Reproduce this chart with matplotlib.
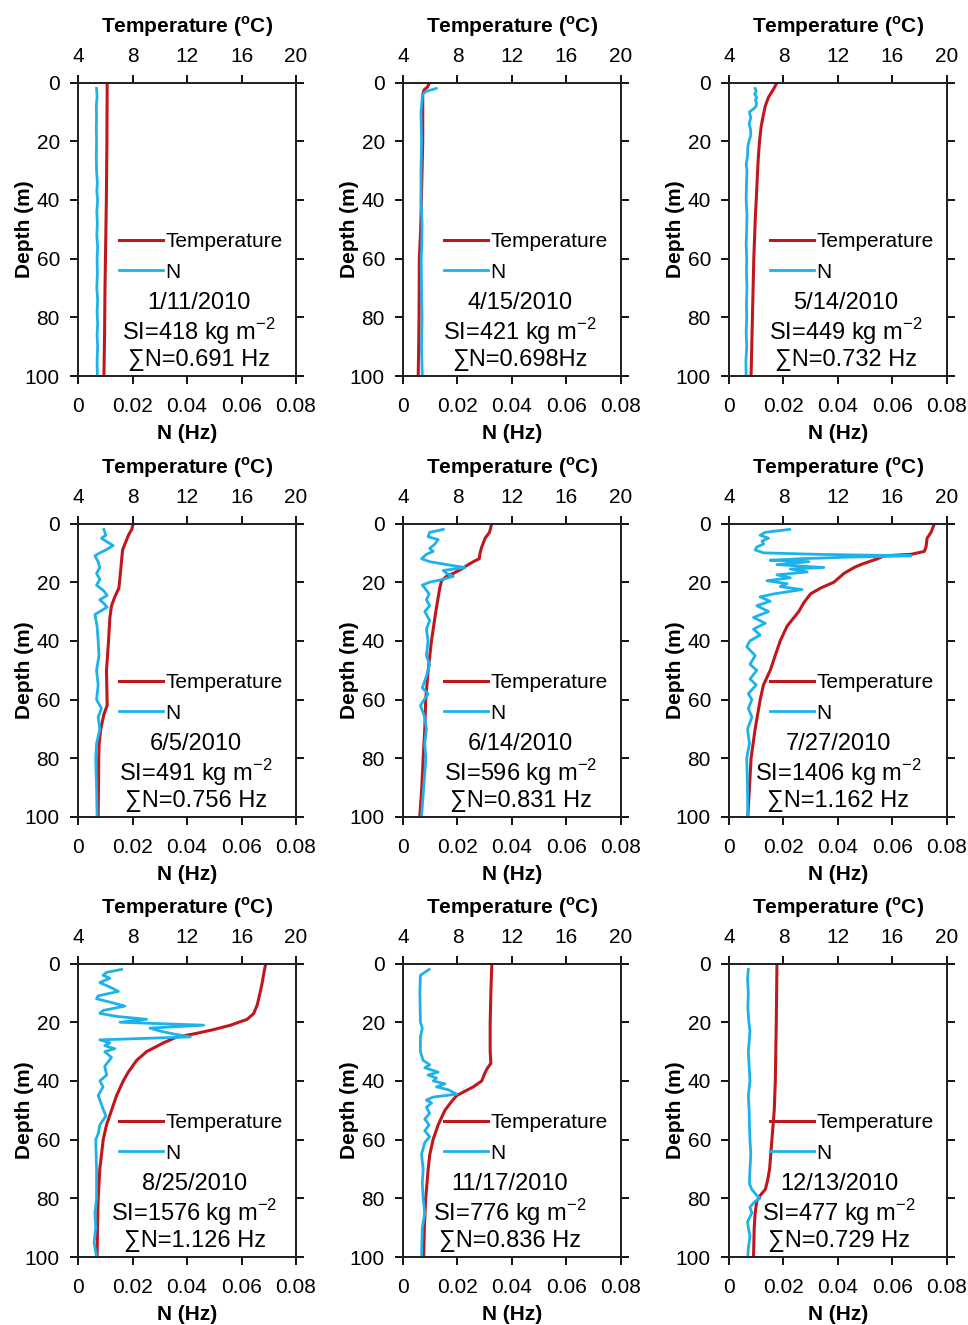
import matplotlib
matplotlib.use('Agg')
import matplotlib.pyplot as plt
from matplotlib.lines import Line2D

plt.rcParams['font.family'] = ['Liberation Sans', 'DejaVu Sans']
plt.rcParams['mathtext.fontset'] = 'custom'
plt.rcParams['mathtext.rm'] = 'Liberation Sans'
plt.rcParams['mathtext.bf'] = 'Liberation Sans:bold'

# --- data ---
dates = ['1/11/2010', '4/15/2010', '5/14/2010', '6/5/2010', '6/14/2010',
         '7/27/2010', '8/25/2010', '11/17/2010', '12/13/2010']
si_values = [418, 421, 449, 491, 596, 1406, 1576, 776, 477]
sum_n_labels = ['0.691 Hz', '0.698Hz', '0.732 Hz', '0.756 Hz', '0.831 Hz',
                '1.162 Hz', '1.126 Hz', '0.836 Hz', '0.729 Hz']

t_depth_0111 = [1, 20, 40, 55, 70, 85, 100]
t_0111 = [6.14, 6.12, 6.08, 6.03, 5.98, 5.95, 5.9]
n_depth_0111 = [2, 5, 8, 12, 16, 20, 25, 30, 34, 37, 40, 44, 48, 52, 56, 60,
                65, 70, 74, 78, 82, 86, 90, 95, 100]
n_0111 = [0.0068, 0.0070, 0.0067, 0.0068, 0.0067, 0.0068, 0.0067, 0.0068,
          0.0071, 0.0069, 0.0072, 0.0069, 0.0071, 0.0069, 0.0072, 0.0070,
          0.0071, 0.0069, 0.0072, 0.0070, 0.0072, 0.0070, 0.0072, 0.0070, 0.0071]

t_depth_0415 = [0.5, 1.5, 2.5, 4, 20, 40, 50, 60, 80, 100]
t_0415 = [5.9, 5.8, 5.55, 5.45, 5.45, 5.35, 5.3, 5.2, 5.18, 5.12]
n_depth_0415 = [2, 3, 4, 10, 20, 30, 40, 48, 55, 60, 70, 80, 90, 100]
n_0415 = [0.0122, 0.0085, 0.0072, 0.0066, 0.0068, 0.0066, 0.0066, 0.0070,
          0.0069, 0.0067, 0.0068, 0.0070, 0.0068, 0.0071]

t_depth_0514 = [0, 2, 5, 8, 12, 15, 20, 25, 30, 40, 45, 50, 60, 70, 80, 90, 100]
t_0514 = [7.52, 7.3, 6.9, 6.66, 6.48, 6.36, 6.24, 6.16, 6.1, 6.0, 5.94, 5.9,
          5.82, 5.77, 5.72, 5.67, 5.62]
n_depth_0514 = [2, 3, 4, 5, 6, 7, 8, 9, 10, 12, 14, 16, 18, 20, 22, 25, 28, 30,
                35, 40, 45, 50, 55, 60, 65, 70, 75, 80, 85, 90, 95, 100]
n_0514 = [0.0096, 0.0100, 0.0094, 0.0102, 0.0097, 0.0101, 0.0100, 0.0090,
          0.0075, 0.0080, 0.0074, 0.0079, 0.0080, 0.0073, 0.0069, 0.0068,
          0.0063, 0.0066, 0.0064, 0.0063, 0.0066, 0.0065, 0.0063, 0.0065,
          0.0064, 0.0066, 0.0064, 0.0065, 0.0063, 0.0065, 0.0062, 0.0063]

t_depth_0605 = [0, 2, 4, 7, 9, 15, 22, 25, 28, 32, 40, 50, 62, 65, 70, 75, 80, 90, 100]
t_0605 = [8.06, 7.94, 7.7, 7.44, 7.27, 7.15, 7.0, 6.7, 6.46, 6.34, 6.24, 6.09,
          6.14, 5.9, 5.67, 5.55, 5.52, 5.5, 5.48]
n_depth_0605 = [2, 4, 5, 6, 7.5, 9, 10, 11, 13, 15, 17, 19, 21, 23, 24.5, 26, 27,
                28.5, 30, 31, 35, 40, 45, 50, 55, 60, 63, 66, 70, 75, 80, 90, 100]
n_0605 = [0.0095, 0.0102, 0.0086, 0.0102, 0.0129, 0.0102, 0.0080, 0.0062,
          0.0074, 0.0080, 0.0068, 0.0080, 0.0068, 0.0095, 0.0107, 0.0080,
          0.0092, 0.0107, 0.0080, 0.0062, 0.0070, 0.0074, 0.0077, 0.0068,
          0.0074, 0.0068, 0.0086, 0.0074, 0.0080, 0.0068, 0.0065, 0.0068, 0.0070]

t_depth_0614 = [0, 3, 5, 8, 10, 12, 13, 14, 15.5, 17, 18, 19.5, 22, 30, 40, 50,
                60, 70, 80, 90, 100]
t_0614 = [10.52, 10.35, 10.03, 9.78, 9.66, 9.6, 9.17, 8.8, 8.3, 7.69, 7.2, 6.83,
          6.7, 6.41, 6.09, 5.85, 5.67, 5.6, 5.48, 5.38, 5.23]
n_depth_0614 = [2, 3, 4.5, 5.5, 7, 8.5, 9.5, 10.5, 12, 13, 14, 15, 16, 17, 18,
                19, 20, 21, 22, 24, 26, 28, 30, 33, 36, 40, 45, 48, 52, 56, 58,
                62, 66, 70, 75, 80, 90, 100]
n_0614 = [0.0148, 0.0098, 0.0092, 0.0129, 0.0117, 0.0098, 0.0111, 0.0086,
          0.0068, 0.0098, 0.0160, 0.0228, 0.0148, 0.0160, 0.0185, 0.0148,
          0.0098, 0.0071, 0.0080, 0.0096, 0.0086, 0.0098, 0.0080, 0.0098,
          0.0086, 0.0092, 0.0086, 0.0098, 0.0086, 0.0071, 0.0092, 0.0064,
          0.0080, 0.0086, 0.0080, 0.0084, 0.0076, 0.0068]

t_depth_0727 = [0, 3, 5, 8, 9.5, 10.5, 11, 12, 13, 14, 15, 17, 20, 22, 24, 27,
                30, 35, 40, 45, 50, 55, 60, 70, 80, 90, 100]
t_0727 = [19.08, 18.83, 18.54, 18.46, 18.34, 17.36, 15.4, 14.9, 14.28, 13.67,
          13.18, 12.44, 11.7, 10.72, 9.98, 9.49, 9.12, 8.26, 7.76, 7.39, 7.03,
          6.53, 6.29, 5.92, 5.62, 5.5, 5.38]
n_depth_0727 = [2, 3, 4, 5, 6, 7, 8, 9, 10, 10.5, 11, 11.5, 12, 12.5, 13, 14,
                15, 15.5, 16.5, 17.5, 18.5, 19.5, 20.5, 21.5, 22.5, 24, 25, 26.5,
                28, 30, 32, 34, 36, 38, 40, 42, 45, 48, 50, 53, 55, 58, 60, 63,
                66, 70, 75, 80, 90, 100]
n_0727 = [0.0223, 0.0133, 0.0114, 0.0145, 0.0121, 0.0127, 0.0102, 0.0096,
          0.0127, 0.0323, 0.0668, 0.0422, 0.0262, 0.0151, 0.0293, 0.0176,
          0.0348, 0.0225, 0.0287, 0.0176, 0.0225, 0.0139, 0.0213, 0.0188,
          0.0268, 0.0164, 0.0114, 0.0151, 0.0102, 0.0145, 0.0090, 0.0133,
          0.0090, 0.0114, 0.0077, 0.0065, 0.0096, 0.0077, 0.0102, 0.0077,
          0.0100, 0.0071, 0.0084, 0.0071, 0.0084, 0.0068, 0.0075, 0.0065,
          0.0068, 0.0069]

t_depth_0825 = [0, 3, 7, 10, 14, 17, 19, 20, 21, 22.5, 24, 25, 27, 30, 33, 37,
                40, 45, 50, 55, 60, 70, 80, 90, 100]
t_0825 = [17.78, 17.65, 17.5, 17.36, 17.16, 16.9, 16.42, 15.8, 15.2, 13.96,
          12.49, 11.26, 10.28, 9.04, 8.3, 7.69, 7.32, 6.83, 6.46, 6.09, 5.85,
          5.6, 5.48, 5.43, 5.4]
n_depth_0825 = [2, 3, 4, 5, 6.5, 8, 9.5, 11, 12, 13, 14.5, 16, 17, 18, 19, 20,
                21, 22, 23, 24, 25, 26, 27, 28, 29, 30, 32, 35, 38, 40, 42, 45,
                48, 52, 55, 58, 60, 70, 80, 85, 90, 95, 100]
n_0825 = [0.0160, 0.0105, 0.0092, 0.0117, 0.0080, 0.0117, 0.0148, 0.0074,
          0.0068, 0.0111, 0.0172, 0.0092, 0.0080, 0.0141, 0.0252, 0.0154,
          0.0461, 0.0264, 0.0301, 0.0351, 0.0412, 0.0080, 0.0117, 0.0098,
          0.0135, 0.0098, 0.0123, 0.0098, 0.0105, 0.0080, 0.0092, 0.0074,
          0.0086, 0.0102, 0.0080, 0.0074, 0.0065, 0.0068, 0.0068, 0.0062,
          0.0065, 0.0059, 0.0068]

t_depth_1117 = [0, 10, 20, 30, 34, 36, 38, 40, 42, 43.5, 45, 47, 50, 55, 60, 65,
                70, 80, 90, 100]
t_1117 = [10.52, 10.45, 10.4, 10.4, 10.45, 10.15, 9.95, 9.78, 9.17, 8.55, 7.94,
          7.57, 7.08, 6.58, 6.21, 5.97, 5.85, 5.67, 5.57, 5.52]
n_depth_1117 = [2, 3, 4, 10, 20, 22, 25, 30, 33, 34.5, 35.5, 37, 38, 39, 40, 41,
                42, 43, 44.5, 45.5, 46.5, 47.5, 49, 51, 53, 55, 57, 59, 61, 65,
                70, 75, 80, 85, 90, 100]
n_1117 = [0.0096, 0.0080, 0.0064, 0.0062, 0.0064, 0.0071, 0.0064, 0.0064,
          0.0074, 0.0098, 0.0080, 0.0129, 0.0092, 0.0123, 0.0111, 0.0154,
          0.0123, 0.0166, 0.0197, 0.0111, 0.0086, 0.0105, 0.0086, 0.0098,
          0.0080, 0.0096, 0.0080, 0.0098, 0.0080, 0.0068, 0.0074, 0.0071,
          0.0074, 0.0080, 0.0071, 0.0068]

t_depth_1213 = [0, 20, 40, 50, 60, 70, 74, 77, 79, 81, 85, 90, 100]
t_1213 = [7.52, 7.47, 7.4, 7.32, 7.15, 6.98, 6.83, 6.66, 6.29, 6.04, 5.92, 5.85, 5.8]
n_depth_1213 = [2, 5, 10, 15, 20, 23, 30, 35, 40, 45, 50, 55, 60, 65, 70, 75, 77,
                79, 80, 81, 83, 85, 88, 90, 93, 97, 100]
n_1213 = [0.0071, 0.0068, 0.0071, 0.0069, 0.0073, 0.0077, 0.0071, 0.0074,
          0.0077, 0.0071, 0.0074, 0.0075, 0.0077, 0.0080, 0.0077, 0.0075,
          0.0084, 0.0102, 0.0114, 0.0096, 0.0077, 0.0084, 0.0068, 0.0071,
          0.0077, 0.0071, 0.0069]

temp_depths = [t_depth_0111, t_depth_0415, t_depth_0514, t_depth_0605, t_depth_0614,
               t_depth_0727, t_depth_0825, t_depth_1117, t_depth_1213]
temps = [t_0111, t_0415, t_0514, t_0605, t_0614, t_0727, t_0825, t_1117, t_1213]
n_depths = [n_depth_0111, n_depth_0415, n_depth_0514, n_depth_0605, n_depth_0614,
            n_depth_0727, n_depth_0825, n_depth_1117, n_depth_1213]
n_vals = [n_0111, n_0415, n_0514, n_0605, n_0614, n_0727, n_0825, n_1117, n_1213]

# x centre of the text block in each panel (axes fraction)
text_x = [0.555, 0.535, 0.535, 0.54, 0.54, 0.50, 0.535, 0.49, 0.505]

RED = '#C0171D'
BLUE = '#1EB2EA'

fig = plt.figure(figsize=(9.68, 13.25), dpi=100)

lefts = [0.0806, 0.4163, 0.7531]
bottoms = [0.7162, 0.3834, 0.0513]
w, h = 0.2252, 0.2215

for i in range(9):
    r, c = divmod(i, 3)
    ax = fig.add_axes([lefts[c], bottoms[r], w, h])   # temperature, top axis
    axn = ax.twiny()                                  # N, bottom axis

    ax.xaxis.tick_top()
    ax.xaxis.set_label_position('top')
    axn.xaxis.tick_bottom()
    axn.xaxis.set_label_position('bottom')

    ax.plot(temps[i], temp_depths[i], color=RED, lw=2.2)
    axn.plot(n_vals[i], n_depths[i], color=BLUE, lw=2.0)

    ax.set_xlim(4, 20)
    ax.set_xticks([4, 8, 12, 16, 20])
    axn.set_xlim(0, 0.08)
    axn.set_xticks([0, 0.02, 0.04, 0.06, 0.08])
    axn.set_xticklabels(['0', '0.02', '0.04', '0.06', '0.08'])
    ax.set_ylim(100, 0)
    ax.set_yticks([0, 20, 40, 60, 80, 100])

    for a in (ax, axn):
        for s in a.spines.values():
            s.set_linewidth(1.3)
            s.set_color('#222222')
    ax.tick_params(axis='x', direction='out', length=6, width=1.3,
                   labelsize=15, pad=6, top=True, bottom=False,
                   labeltop=True, labelbottom=False)
    axn.tick_params(axis='x', direction='out', length=6, width=1.3,
                    labelsize=15, pad=9, top=False, bottom=True,
                    labeltop=False, labelbottom=True)
    ax.tick_params(axis='y', direction='out', length=6, width=1.3,
                   labelsize=15, pad=7, left=True, right=True)

    ax.set_xlabel(r'Temperature ($^{\mathbf{o}}$C)', fontsize=15,
                  fontweight='bold', labelpad=10)
    axn.set_xlabel('N (Hz)', fontsize=15, fontweight='bold', labelpad=6)
    ax.set_ylabel('Depth (m)', fontsize=15, fontweight='bold')
    ax.yaxis.set_label_coords(-0.20, 0.5)

    handles = [Line2D([], [], color=RED, lw=2.2), Line2D([], [], color=BLUE, lw=2.0)]
    axn.legend(handles, ['Temperature', 'N'], loc='upper left',
               bbox_to_anchor=(0.19, 0.49), frameon=False, fontsize=15,
               handlelength=2.1, handletextpad=0.1, labelspacing=0.55,
               borderpad=0, borderaxespad=0)

    tx = text_x[i]
    axn.text(tx, 0.25, dates[i], transform=axn.transAxes, ha='center',
             va='center', fontsize=17)
    axn.text(tx, 0.153, f'SI={si_values[i]} kg m$^{{-2}}$', transform=axn.transAxes,
             ha='center', va='center', fontsize=17)
    axn.text(tx, 0.055, '\u2211N=' + sum_n_labels[i], transform=axn.transAxes,
             ha='center', va='center', fontsize=17)

fig.savefig('out.png', dpi=100)
